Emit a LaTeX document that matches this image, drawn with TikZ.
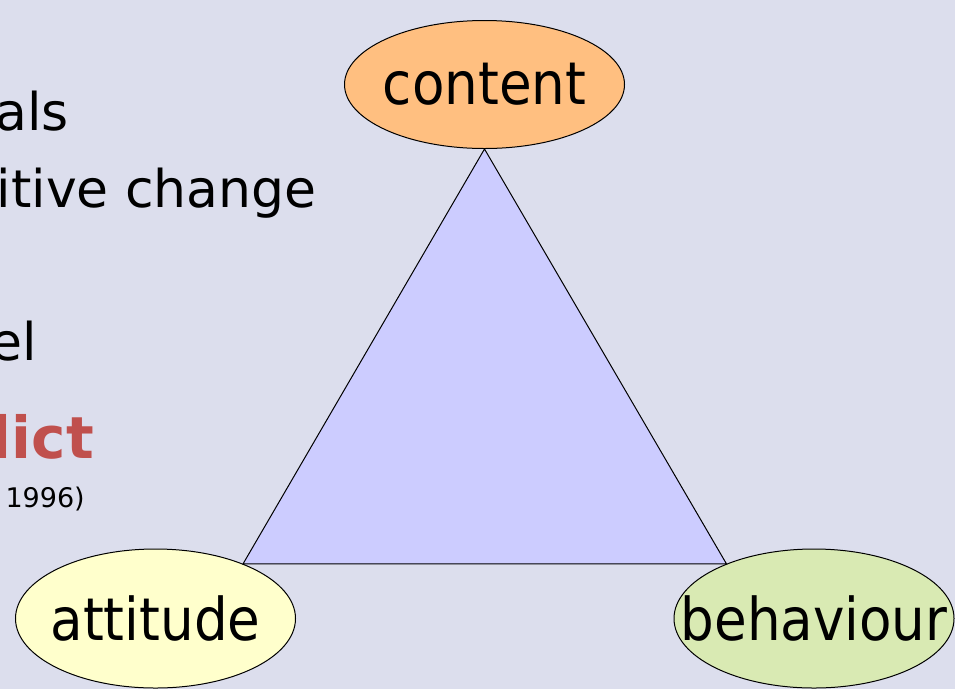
\documentclass[tikz,border=0pt]{standalone}
\usepackage{fontspec}
\setmainfont{DejaVu Sans}
\newfontfamily\cornerfont{DejaVu Sans Condensed}
\usetikzlibrary{shapes,positioning}
\definecolor{slidebg}{RGB}{220,222,237}
\definecolor{trifill}{RGB}{204,204,255}
\definecolor{contentfill}{RGB}{255,191,128}
\definecolor{attitudefill}{RGB}{255,255,204}
\definecolor{behaviourfill}{RGB}{217,234,179}
\definecolor{conflictred}{RGB}{192,80,77}
\newcommand{\cornertext}[1]{\makebox[0pt]{#1}}
\begin{document}
\begin{tikzpicture}[x=1pt, y=-1pt,
		corner/.style={ellipse, draw, line width=1pt, minimum width=280pt, minimum height=139pt, inner sep=0pt, font=\cornerfont\fontsize{59}{62}\selectfont},
		bullet/.style={anchor=base east, inner sep=0pt, font=\fontsize{52}{56}\selectfont}]
	\useasboundingbox (0,0) rectangle (955,689);
	\fill [slidebg] (0,0) rectangle (955,689);
	% left text, cut off by the frame
	\node [bullet] (goals) at (69,130) {als};
	\node [bullet] (change) at (317,207) {itive change};
	\node [bullet] (model) at (37,360) {el};
	\node [bullet, font=\fontsize{58}{60}\selectfont\bfseries, text=conflictred] (conflict) at (94,458) {lict};
	\node [bullet, font=\fontsize{27}{30}\selectfont] (year) at (85,507) {1996)};
	% triangle
	\node [corner, fill=contentfill, minimum height=128pt] (content) at (484.5,84.5) {\cornertext{content}};
	\node [corner, fill=attitudefill] (attitude) at (155.5,618.5) {\cornertext{attitude}};
	\node [corner, fill=behaviourfill] (behaviour) at (814,618.5) {\cornertext{behaviour}};
	\draw [fill=trifill, line width=1pt] (content.south) -- (attitude.32) -- (behaviour.148) -- cycle;
\end{tikzpicture}
\end{document}
